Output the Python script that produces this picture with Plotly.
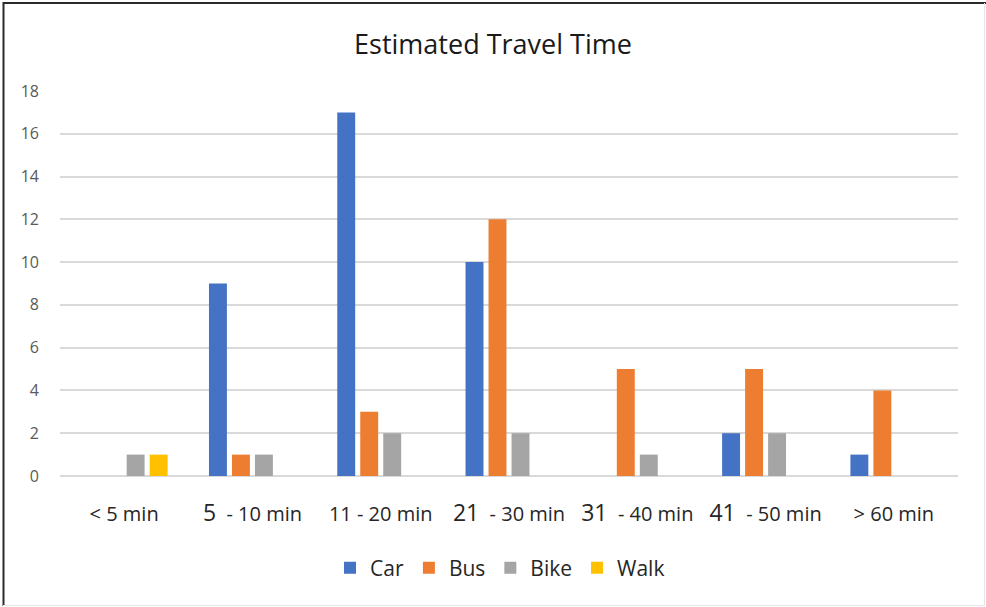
import plotly.graph_objects as go

# Travel-time bands and respondent counts by mode
categories = ["< 5 min", "5  - 10 min", "11 - 20 min", "21  - 30 min",
              "31  - 40 min", "41  - 50 min", "> 60 min"]
tick_labels = [
    "< 5 min",
    "<span style='font-size:23px'>5</span>&nbsp;&nbsp;- 10 min",
    "11 - 20 min",
    "<span style='font-size:23px'>21</span>&nbsp;&nbsp;- 30 min",
    "<span style='font-size:23px'>31</span>&nbsp;&nbsp;- 40 min",
    "<span style='font-size:23px'>41</span>&nbsp;&nbsp;- 50 min",
    "> 60 min",
]
car = [0, 9, 17, 10, 0, 2, 1]
bus = [0, 1, 3, 12, 5, 5, 4]
bike = [1, 1, 2, 2, 1, 2, 0]
walk = [1, 0, 0, 0, 0, 0, 0]

series = [("Car", car, "#4472C4"), ("Bus", bus, "#ED7D31"),
          ("Bike", bike, "#A5A5A5"), ("Walk", walk, "#FFC000")]

FONT = "'Open Sans', Carlito, Calibri, sans-serif"

fig = go.Figure()
for name, vals, color in series:
    fig.add_trace(go.Bar(name=name, x=categories, y=vals,
                         marker=dict(color=color, line=dict(width=0))))

# margins define the plot area; border drawn around the whole canvas
L, R, T, B = 60, 28, 91, 131
W, H = 986, 607
pw, ph = W - L - R, H - T - B

def px_x(px):
    return (px - L) / pw

def px_y(py):
    return (H - B - py) / ph

shapes = [
    dict(type="line", xref="paper", yref="paper", x0=px_x(3.5), x1=px_x(3.5),
         y0=px_y(2), y1=px_y(606), line=dict(color="#2b2b2b", width=2)),
    dict(type="line", xref="paper", yref="paper", x0=px_x(3), x1=px_x(986),
         y0=px_y(3), y1=px_y(3), line=dict(color="#2b2b2b", width=2)),
    dict(type="line", xref="paper", yref="paper", x0=px_x(984.5), x1=px_x(984.5),
         y0=px_y(3), y1=px_y(606), line=dict(color="#e6e6e6", width=1)),
    dict(type="line", xref="paper", yref="paper", x0=px_x(3), x1=px_x(985),
         y0=px_y(605.5), y1=px_y(605.5), line=dict(color="#e6e6e6", width=1)),
]

fig.update_layout(
    width=W, height=H,
    margin=dict(l=L, r=R, t=T, b=B),
    paper_bgcolor="white", plot_bgcolor="white",
    barmode="group", bargap=0.283, bargroupgap=0.22,
    font=dict(family=FONT, color="#404040"),
    title=dict(text="Estimated Travel Time", x=0.5, xanchor="center",
               y=1 - 45 / H, yanchor="middle",
               font=dict(family=FONT, size=27, color="#1a1a1a")),
    xaxis=dict(type="category", categoryorder="array", categoryarray=categories,
               tickvals=categories, ticktext=tick_labels,
               tickfont=dict(family=FONT, size=20, color="#262626"),
               showgrid=False, showline=False, ticks="",
               ticklabelstandoff=24),
    yaxis=dict(range=[0, 18], dtick=2, showgrid=True, gridcolor="#D9D9D9",
               gridwidth=1.5, zeroline=True, zerolinecolor="#D9D9D9",
               zerolinewidth=1.5, showline=False, ticks="",
               tickfont=dict(family=FONT, size=16, color="#595959"),
               ticklabelstandoff=20),
    legend=dict(orientation="h", x=px_x(500), xanchor="center",
                y=px_y(568), yanchor="middle",
                font=dict(family=FONT, size=21, color="#262626"),
                itemwidth=30, tracegroupgap=0),
    shapes=shapes,
)

fig.write_html("out.html")
